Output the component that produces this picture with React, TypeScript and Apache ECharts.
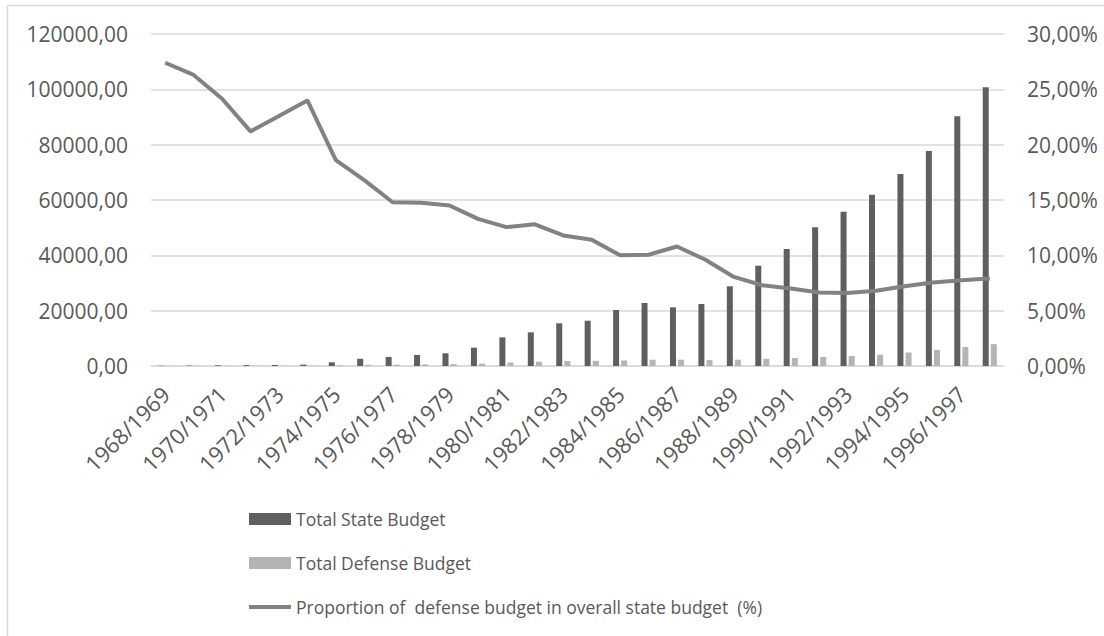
import React, { useEffect, useRef } from "react";
import * as echarts from "echarts";

const categories = [
  "1968/1969", "1969/1970", "1970/1971", "1971/1972", "1972/1973", "1973/1974",
  "1974/1975", "1975/1976", "1976/1977", "1977/1978", "1978/1979", "1979/1980",
  "1980/1981", "1981/1982", "1982/1983", "1983/1984", "1984/1985", "1985/1986",
  "1986/1987", "1987/1988", "1988/1989", "1989/1990", "1990/1991", "1991/1992",
  "1992/1993", "1993/1994", "1994/1995", "1995/1996", "1996/1997", "1997/1998",
];

const stateBudget = [
  100, 150, 250, 320, 380, 500, 1340, 2600, 3250, 3975, 4600, 6620, 10360, 12170,
  15420, 16380, 20240, 22770, 21200, 22400, 28800, 36250, 42280, 50120, 55770,
  61920, 69390, 77700, 90230, 100710,
];

const defenseBudget = [
  27, 39, 60, 68, 86, 120, 250, 440, 480, 590, 670, 880, 1300, 1560, 1800, 1870,
  2020, 2280, 2290, 2150, 2300, 2600, 2900, 3250, 3600, 4100, 4900, 5800, 6850,
  7900,
];

const defenseShare = [
  27.4, 26.3, 24.15, 21.2, 22.6, 24.0, 18.6, 16.8, 14.8, 14.75, 14.5, 13.3, 12.55,
  12.8, 11.8, 11.4, 10.0, 10.05, 10.8, 9.6, 8.05, 7.3, 7.0, 6.65, 6.6, 6.8, 7.2,
  7.55, 7.75, 7.9,
];

const FONT = "Open Sans";
const TEXT = "#595959";
const GRID = "#d9d9d9";
const LINE_NAME = "Proportion of  defense budget in overall state budget  (%)";

export default function App() {
  const ref = useRef<HTMLDivElement>(null);
  useEffect(() => {
    if (!ref.current) return;
    const chart = echarts.init(ref.current, undefined, { renderer: "svg" });
    chart.setOption({
      animation: false,
      backgroundColor: "#ffffff",
      textStyle: { fontFamily: FONT },
      grid: { left: 151, right: 100, top: 34, bottom: 270 },
      graphic: [
        { type: "line", shape: { x1: 7.5, y1: 5.5, x2: 1104, y2: 5.5 }, style: { stroke: GRID, lineWidth: 1.5 } },
        { type: "line", shape: { x1: 7.5, y1: 5.5, x2: 7.5, y2: 636 }, style: { stroke: GRID, lineWidth: 1.5 } },
      ],
      legend: {
        orient: "vertical",
        left: 244,
        top: 504,
        itemWidth: 42,
        itemHeight: 12,
        itemGap: 24,
        textStyle: { color: TEXT, fontFamily: FONT, fontSize: 17.5, lineHeight: 20 },
        data: [
          { name: "Total State Budget", icon: "rect" },
          { name: "Total Defense Budget", icon: "rect" },
          { name: LINE_NAME, icon: "path://M0,0 L42,0 L42,4 L0,4 Z" },
        ],
      },
      xAxis: {
        type: "category",
        data: categories,
        axisLine: { lineStyle: { color: GRID, width: 1.5 } },
        axisTick: { show: false },
        axisLabel: {
          interval: 1,
          rotate: 45,
          color: TEXT,
          fontFamily: FONT,
          fontSize: 22,
          margin: 24,
        },
      },
      yAxis: [
        {
          type: "value",
          min: 0,
          max: 120000,
          interval: 20000,
          axisLine: { show: false },
          axisTick: { show: false },
          splitLine: { lineStyle: { color: GRID, width: 1.5 } },
          axisLabel: {
            color: TEXT,
            fontFamily: FONT,
            fontSize: 21,
            margin: 23,
            formatter: (v: number) => v.toFixed(2).replace(".", ","),
          },
        },
        {
          type: "value",
          min: 0,
          max: 30,
          interval: 5,
          position: "right",
          axisLine: { show: false },
          axisTick: { show: false },
          splitLine: { show: false },
          axisLabel: {
            color: TEXT,
            fontFamily: FONT,
            fontSize: 21,
            margin: 23,
            formatter: (v: number) => v.toFixed(2).replace(".", ",") + "%",
          },
        },
      ],
      series: [
        {
          name: "Total State Budget",
          type: "bar",
          data: stateBudget,
          barWidth: 6,
          barGap: "35%",
          itemStyle: { color: "#5f5f5f" },
        },
        {
          name: "Total Defense Budget",
          type: "bar",
          data: defenseBudget,
          barWidth: 6,
          barGap: "35%",
          itemStyle: { color: "#b4b4b4" },
        },
        {
          name: LINE_NAME,
          type: "line",
          yAxisIndex: 1,
          data: defenseShare,
          symbol: "none",
          lineStyle: { color: "#828282", width: 4 },
          itemStyle: { color: "#828282" },
        },
      ],
    });
    return () => chart.dispose();
  }, []);
  return (
    <div
      ref={ref}
      style={{ position: "absolute", left: 0, top: 0, width: 1104, height: 636 }}
    />
  );
}
